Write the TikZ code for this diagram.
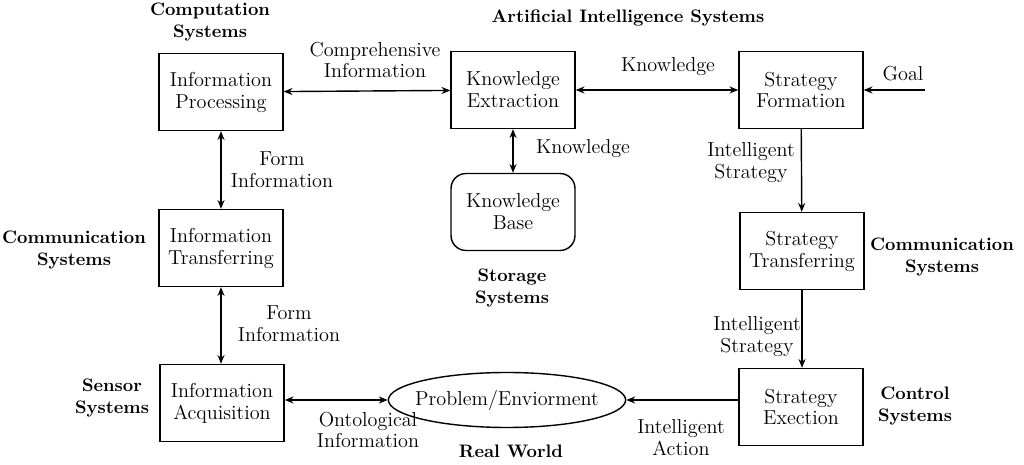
\documentclass[tikz,border=0pt]{standalone}
\usetikzlibrary{
    shapes.geometric,
    arrows.meta,
}
\newcommand{\boxwidth}{2.48cm}
\newcommand{\boxheight}{1.54cm}
\newcommand{\textsize}{\fontsize{11.5}{12.5}\selectfont}
\newcommand{\namesize}{\fontsize{10.3}{12}\selectfont}
\tikzstyle{flowarrow} = [-{Stealth[length=5pt,width=4pt]}]
\tikzstyle{dualarrow} = [{Stealth[length=5pt,width=4pt]}-{Stealth[length=5pt,width=4pt]}]
\tikzstyle{procbox} = [
  draw,
  shape=rectangle,
  color=black,
  align=center,
  minimum width=\boxwidth,
  minimum height=\boxheight,
]
\tikzstyle{storebox} = [
  procbox,
  rounded corners=0.3cm,
]
\tikzstyle{worldnode} = [
  draw,
  shape=ellipse,
  color=black,
  inner xsep=-4.5pt,
  inner ysep=0pt,
  minimum height=1.1cm,
]
\tikzstyle{flowlabel} = [align=center]
\tikzstyle{syslabel} = [align=center, font=\namesize\bfseries]

\begin{document}
\begin{tikzpicture}[
    x=0.02cm, y=-0.02cm,
    line width=0.8pt,
    every node/.style={font=\textsize},
    ]
    \useasboundingbox (0,0) rectangle (1024,465);
    % blocks
    \node[procbox] (infoproc) at (221,92) {Information\\Processing};
    \node[procbox] (knowext) at (513,90) {Knowledge\\Extraction};
    \node[procbox] (stratform) at (801,90) {Strategy\\Formation};
    \node[storebox] (knowbase) at (513,212) {Knowledge\\Base};
    \node[procbox] (infotrans) at (221,248) {Information\\Transferring};
    \node[procbox] (strattrans) at (802,251) {Strategy\\Transferring};
    \node[procbox] (infoacq) at (222,403) {Information\\Acquisition};
    \node[worldnode] (world) at (507,400) {Problem/Enviorment};
    \node[procbox] (stratexec) at (801,407) {Strategy\\Exection};
    \coordinate (goalin) at (925,90);

    % system names
    \node[syslabel] (compsys) at (210,22) {Computation\\Systems};
    \node[syslabel] (aisys) at (628,18) {Artificial Intelligence Systems};
    \node[syslabel] (commsysl) at (74,250) {Communication\\Systems};
    \node[syslabel] (storesys) at (512,288) {Storage\\Systems};
    \node[syslabel] (commsysr) at (942,257) {Communication\\Systems};
    \node[syslabel] (sensesys) at (112,398) {Sensor\\Systems};
    \node[syslabel] (ctrlsys) at (915,406) {Control\\Systems};
    \node[syslabel] (realworld) at (511,451) {Real World};

    % connectors
    \draw[dualarrow] (infoproc) -- (knowext);
    \draw[dualarrow] (knowext) -- (stratform);
    \draw[dualarrow] (knowext) -- (knowbase);
    \draw[dualarrow] (infoproc) -- (infotrans);
    \draw[dualarrow] (infotrans.south) -- (infoacq.north -| infotrans.south);
    \draw[dualarrow] (infoacq.east |- world) -- (world);
    \draw[flowarrow] (goalin) -- (stratform);
    \draw[flowarrow] (stratform) -- (strattrans);
    \draw[flowarrow] (strattrans) -- (stratexec.north -| strattrans);
    \draw[flowarrow] (stratexec.west |- world) -- (world);

    % connector labels
    \node[flowlabel] (complbl) at (375,60) {Comprehensive\\Information};
    \node[flowlabel] (knowlbla) at (668,67) {Knowledge};
    \node[flowlabel] (knowlblb) at (583,149) {Knowledge};
    \node[flowlabel] (goallbl) at (903,74) {Goal};
    \node[flowlabel] (formlbla) at (282,170) {Form\\Information};
    \node[flowlabel] (formlblb) at (289,324) {Form\\Information};
    \node[flowlabel] (ontolbl) at (368,430) {Ontological\\Information};
    \node[flowlabel] (stratlbla) at (751,163) {Intelligent\\Strategy};
    \node[flowlabel] (stratlblb) at (757,337) {Intelligent\\Strategy};
    \node[flowlabel] (actlbl) at (681,438) {Intelligent\\Action};
\end{tikzpicture}
\end{document}
